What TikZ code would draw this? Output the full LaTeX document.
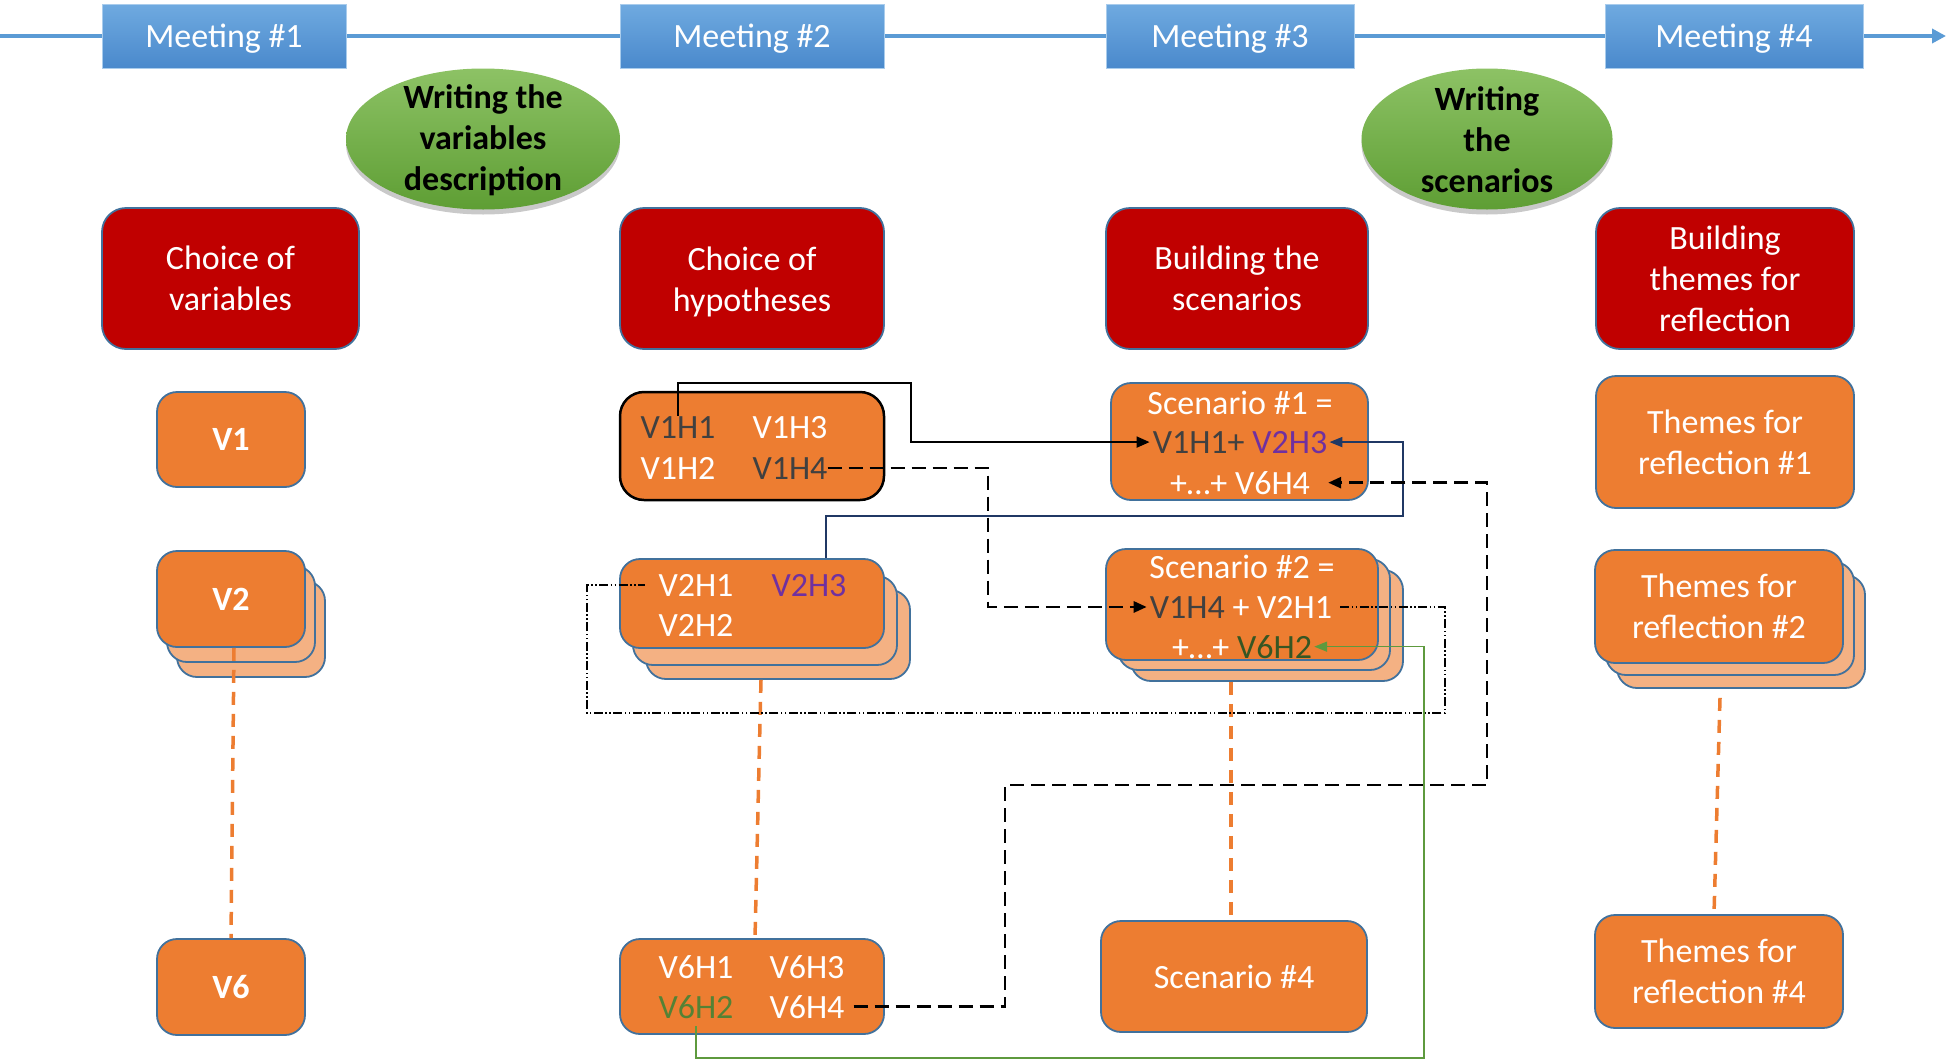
\documentclass[tikz,border=0pt]{standalone}
\usepackage{fontspec}
\setmainfont{Carlito}
\usetikzlibrary{arrows.meta,shadows,shapes.geometric,calc}
\definecolor{mbluetop}{HTML}{6FAAE0}
\definecolor{mbluebot}{HTML}{4A89CC}
\definecolor{mline}{HTML}{5B9BD5}
\definecolor{dred}{HTML}{C00000}
\definecolor{bord}{HTML}{41719C}
\definecolor{orng}{HTML}{ED7D31}
\definecolor{lorng}{HTML}{F4B183}
\definecolor{dgrey}{HTML}{404040}
\definecolor{purp}{HTML}{7030A0}
\definecolor{ogreen}{HTML}{548235}
\definecolor{dgreen}{HTML}{375623}
\definecolor{navyc}{HTML}{203864}
\definecolor{gconnc}{HTML}{5E9A3E}
\definecolor{gtop}{HTML}{8DC265}
\definecolor{gbot}{HTML}{5E9E34}
\newcommand{\fsz}{\fontsize{34}{41}\selectfont}
\begin{document}
\begin{tikzpicture}[x=1pt,y=-1pt,font=\fsz,
  tline/.style={draw=mline,line width=4pt,-{Triangle[length=14pt,width=14pt]}},
  meet/.style={rectangle,top color=mbluetop,bottom color=mbluebot,draw=mbluetop!60!white,line width=0.8pt,text=white,minimum height=64pt,inner sep=0pt,text depth=0pt},
  ell/.style={ellipse,top color=gtop,bottom color=gbot,inner sep=0pt,
     drop shadow={shadow xshift=0pt,shadow yshift=-5pt,opacity=0.3,fill=black!70}},
  elltxt/.style={font=\fsz\bfseries,text=black,align=center,inner sep=0pt},
  redb/.style={rectangle,rounded corners=24pt,fill=dred,draw=bord,line width=1.8pt,text=white,align=center,inner sep=0pt},
  orb/.style={rectangle,rounded corners=20pt,fill=orng,draw=bord,line width=1.8pt,text=white,align=center,inner sep=0pt},
  backb/.style={orb,fill=lorng},
  tx/.style={inner sep=0pt,anchor=base,text=white},
  odash/.style={draw=orng,line width=3.5pt,dash pattern=on 13pt off 9pt},
  bconn/.style={draw=black,line width=2pt,-{Triangle[length=13pt,width=11pt]}},
  bdash/.style={draw=black,line width=2.7pt,dash pattern=on 14pt off 7pt,-{Triangle[length=13pt,width=11pt]}},
  nconn/.style={draw=navyc,line width=1.8pt,-{Triangle[length=13pt,width=10pt]}},
  gconn/.style={draw=gconnc,line width=1.6pt,-{Triangle[length=13pt,width=10pt]}},
  ddd/.style={draw=black,line width=1.3pt,dash pattern=on 9pt off 2.5pt on 1.5pt off 2.5pt on 1.5pt off 2.5pt}]
\useasboundingbox (0,0) rectangle (1950,1060);
% timeline
\coordinate (tlA) at (0,36);
\coordinate (tlB) at (1946,36);
\draw[tline] (tlA) -- (tlB);
\node[meet,minimum width=244pt] (m1) at (224,36) {Meeting \#1};
\node[meet,minimum width=264pt] (m2) at (752,36) {Meeting \#2};
\node[meet,minimum width=248pt] (m3) at (1230,36) {Meeting \#3};
\node[meet,minimum width=258pt] (m4) at (1734,36) {Meeting \#4};
% ellipses
\node[ell,minimum width=274pt,minimum height=141pt] (e1) at (483,139) {};
\node[elltxt] (e1t) at (483,140) {Writing the\\variables\\description};
\node[ell,minimum width=251pt,minimum height=141pt] (e2) at (1487,139) {};
\node[elltxt] (e2t) at (1487,140) {Writing\\the\\scenarios};
% red boxes
\node[redb,minimum width=257pt,minimum height=141pt] (r1) at (230.5,278.5) {Choice of\\variables};
\node[redb,minimum width=264pt,minimum height=141pt] (r2) at (752,278.5) {\rule{0pt}{31pt}Choice of\\hypotheses};
\node[redb,minimum width=262pt,minimum height=141pt] (r3) at (1237,278.5) {Building the\\scenarios};
\node[redb,minimum width=258pt,minimum height=141pt] (r4) at (1725,278.5) {Building\\themes for\\reflection};
% column 1
\node[orb,minimum width=148pt,minimum height=95pt,font=\fsz\bfseries] (v1) at (231,439.5) {V1};
\node[backb,minimum width=148pt,minimum height=96pt] (v2c) at (251,629) {};
\node[backb,minimum width=148pt,minimum height=96pt] (v2b) at (241,614) {};
\node[orb,minimum width=148pt,minimum height=96pt,font=\fsz\bfseries] (v2a) at (231,599) {V2};
\node[orb,minimum width=148pt,minimum height=96pt,font=\fsz\bfseries] (v6) at (231,987) {V6};
% column 2
\node[orb,draw=black,line width=2.5pt,rounded corners=24pt,minimum width=264pt,minimum height=108pt] (h1) at (752,446) {};
\node[tx,text=dgrey] (h11) at (678,438) {V1H1};
\node[tx] (h13) at (790,438) {V1H3};
\node[tx] (h12) at (678,479) {V1H2};
\node[tx,text=dgrey] (h14) at (790,479) {V1H4};
\node[backb,minimum width=264pt,minimum height=89pt] (h2c) at (778,634.5) {};
\node[backb,minimum width=264pt,minimum height=89pt] (h2b) at (765,620.5) {};
\node[orb,minimum width=264pt,minimum height=89pt] (h2a) at (752,603.5) {};
\node[tx] (h21) at (696,596) {V2H1};
\node[tx,text=purp] (h23) at (809,596) {V2H3};
\node[tx] (h22) at (696,636) {V2H2};
\node[orb,minimum width=264pt,minimum height=95pt] (h6) at (752,986.5) {};
\node[tx] (h61) at (696,978) {V6H1};
\node[tx] (h63) at (807,978) {V6H3};
\node[tx,text=ogreen] (h62) at (696,1018) {V6H2};
\node[tx] (h64) at (807,1018) {V6H4};
% column 3
\node[orb,minimum width=257pt,minimum height=117pt] (s1) at (1239.5,441.5) {};
\node[tx] (s1a) at (1240,414) {Scenario \#1 =};
\node[tx] (s1b) at (1240,453) {\textcolor{dgrey}{V1H1+} \textcolor{purp}{V2H3}};
\node[tx] (s1c) at (1240,494) {+…+ V6H4};
\node[backb,minimum width=272pt,minimum height=111pt] (s2c) at (1267,625.5) {};
\node[backb,minimum width=272pt,minimum height=111pt] (s2b) at (1254,614.5) {};
\node[orb,minimum width=272pt,minimum height=111pt] (s2a) at (1242,604.5) {};
\node[tx] (s2x) at (1242,578) {Scenario \#2 =};
\node[tx] (s2y) at (1241,618) {\textcolor{dgrey}{V1H4} + V2H1};
\node[tx] (s2z) at (1242,658) {+…+ \textcolor{dgreen}{V6H2}};
\node[orb,minimum width=266pt,minimum height=111pt] (s4) at (1234,976.5) {Scenario \#4};
% column 4
\node[orb,minimum width=258pt,minimum height=132pt] (t1) at (1725,442) {Themes for\\reflection \#1};
\node[backb,minimum width=248pt,minimum height=113pt] (t2c) at (1741,631.5) {};
\node[backb,minimum width=248pt,minimum height=113pt] (t2b) at (1730,618.5) {};
\node[orb,minimum width=248pt,minimum height=113pt] (t2a) at (1719,606.5) {Themes for\\reflection \#2};
\node[orb,minimum width=248pt,minimum height=113pt] (t4) at (1719,971.5) {Themes for\\reflection \#4};
% orange dashed links
\draw[odash] ([xshift=3pt]v2a.south) -- (v6.north);
\draw[odash] ([xshift=9pt]h2a.south |- h2c.south) -- ([xshift=3pt]h6.north);
\draw[odash] ([xshift=-11pt]s2a.south |- s2c.south) -- ([xshift=-3pt]s4.north);
\draw[odash] ([xshift=1pt,yshift=-9pt]t2a.south |- t2c.south) -- ([xshift=-5pt]t4.north);
% connectors
\draw[bconn] (h11.north) |- (911,383) |- ([xshift=-3pt]s1b.west);
\draw[bdash] (h14.east) -| (988,540) |- ([xshift=-3pt]s2y.west);
\draw[nconn] ([xshift=74pt]h2a.north) |- (1403,516) |- ([xshift=2pt]s1b.east);
\draw[bdash] ([xshift=9pt]h64.east) -| (1005,785) -| (1487,600) |- ([xshift=18pt]s1c.east);
\draw[ddd] ([xshift=8pt]s2y.east) -| (1445,713) -- (587,713) |- ([xshift=-13pt]h21.west);
\draw[gconn] ([yshift=-8pt]h62.south) |- (1424,1058) |- ([xshift=2pt]s2z.east);
\end{tikzpicture}
\end{document}
